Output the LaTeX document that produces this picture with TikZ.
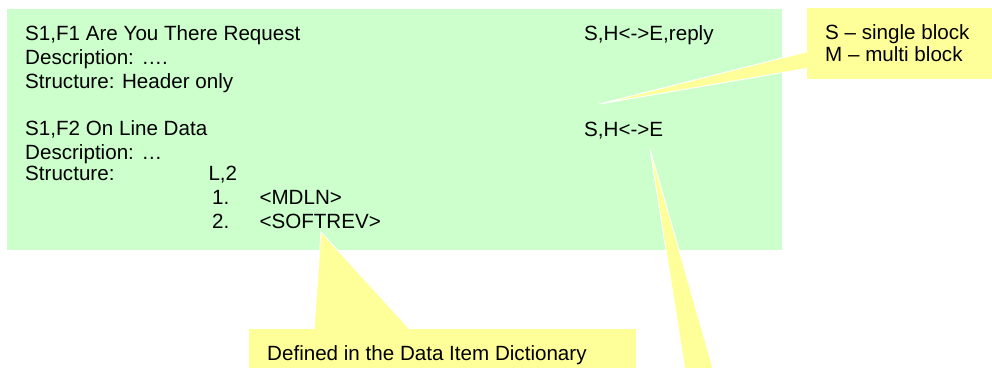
\documentclass[tikz,border=0pt]{standalone}
\usepackage{fontspec}
\setmainfont{Liberation Sans}
\definecolor{boxgreen}{HTML}{CCFFCC}
\definecolor{noteyellow}{HTML}{FFFF99}
\begin{document}
\begin{tikzpicture}[x=1pt,y=-1pt,
  txt/.style={anchor=base west, inner sep=0pt, font=\fontsize{20.6}{24}\selectfont, text=black},
  notebox/.style={fill=noteyellow, inner sep=0pt, anchor=north west},
  wedge/.style={fill=noteyellow},
  wedgeedge/.style={draw=white, line width=0.9pt}]
\useasboundingbox (0,0) rectangle (992,367);
\clip (0,0) rectangle (992,367);
% main green panel
\node[fill=boxgreen, inner sep=0pt, minimum width=775pt, minimum height=241pt, anchor=north west] (panel) at (7,9) {};
% text of the panel
\node[txt] (f1title) at (25,40) {S1,F1 Are You There Request};
\node[txt] (f1desc) at (25,64.3) {Description: ….};
\node[txt] (f1struct) at (25,88.3) {Structure: Header only};
\node[txt] (f2title) at (25,135.5) {S1,F2 On Line Data};
\node[txt] (f2desc) at (25,159) {Description: …};
\node[txt] (f2struct) at (25,180) {Structure:};
\node[txt] (f2list) at (208.3,180) {L,2};
\node[txt] (item1n) at (212,204) {1.};
\node[txt] (item1) at (259.3,204) {<MDLN>};
\node[txt] (item2n) at (212,228.7) {2.};
\node[txt] (item2) at (259.3,228.7) {<SOFTREV>};
\node[txt] (f1dir) at (584,40) {S,H<->E,reply};
\node[txt] (f2dir) at (584,136) {S,H<->E};
% callout: top right
\node[notebox, minimum width=186pt, minimum height=71pt] (noteSM) at (807,8) {};
\coordinate (tipSM) at (599.3,104);
\coordinate (baseSM1) at (807.3,51.7);
\coordinate (baseSM2) at (807.3,68.3);
\fill[wedge] (baseSM1) -- (tipSM) -- (baseSM2) -- cycle;
\draw[wedgeedge] (baseSM1) -- (tipSM) -- (baseSM2);
\node[txt] (noteS) at (825,39.3) {S – single block};
\node[txt] (noteM) at (825,61) {M – multi block};
% callout: bottom
\node[notebox, minimum width=387pt, minimum height=45pt] (noteDict) at (249,329) {};
\coordinate (tipDict) at (321,232);
\coordinate (baseDict1) at (314,329.5);
\coordinate (baseDict2) at (410,329.5);
\fill[wedge] (baseDict1) -- (tipDict) -- (baseDict2) -- cycle;
\draw[wedgeedge] (baseDict1) -- (tipDict) -- (baseDict2);
\node[txt] (dictText) at (267,360) {Defined in the Data Item Dictionary};
% callout pointer from outside the picture
\coordinate (tipDir) at (650,149);
\coordinate (baseDir1) at (686.7,381);
\coordinate (baseDir2) at (716.6,381);
\fill[wedge] (baseDir1) -- (tipDir) -- (baseDir2) -- cycle;
\draw[wedgeedge] (baseDir1) -- (tipDir) -- (baseDir2);
\end{tikzpicture}
\end{document}
